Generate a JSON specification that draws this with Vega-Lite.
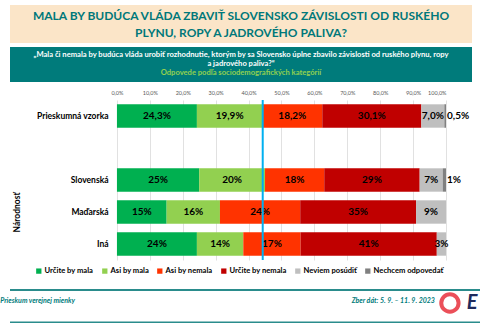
{
  "$schema": "https://vega.github.io/schema/vega-lite/v6.json",
  "padding": {"left": 0, "top": 5, "right": 0, "bottom": 0},
  "background": "white",
  "config": {"view": {"stroke": null}, "font": "Lato"},
  "datasets": {
    "bars": [
      {"group": "Prieskumná vzorka", "o": 1, "cat": "Určite by mala", "v": 24.3, "label": "24,3%"},
      {"group": "Prieskumná vzorka", "o": 2, "cat": "Asi by mala", "v": 19.9, "label": "19,9%"},
      {"group": "Prieskumná vzorka", "o": 3, "cat": "Asi by nemala", "v": 18.2, "label": "18,2%"},
      {"group": "Prieskumná vzorka", "o": 4, "cat": "Určite by nemala", "v": 30.1, "label": "30,1%"},
      {"group": "Prieskumná vzorka", "o": 5, "cat": "Neviem posúdiť", "v": 7.0, "label": "7,0%"},
      {"group": "Prieskumná vzorka", "o": 6, "cat": "Nechcem odpovedať", "v": 0.5, "label": "0,5%"},
      {"group": "Slovenská", "o": 1, "cat": "Určite by mala", "v": 25, "label": "25%"},
      {"group": "Slovenská", "o": 2, "cat": "Asi by mala", "v": 20, "label": "20%"},
      {"group": "Slovenská", "o": 3, "cat": "Asi by nemala", "v": 18, "label": "18%"},
      {"group": "Slovenská", "o": 4, "cat": "Určite by nemala", "v": 29, "label": "29%"},
      {"group": "Slovenská", "o": 5, "cat": "Neviem posúdiť", "v": 7, "label": "7%"},
      {"group": "Slovenská", "o": 6, "cat": "Nechcem odpovedať", "v": 1, "label": "1%"},
      {"group": "Maďarská", "o": 1, "cat": "Určite by mala", "v": 15.1, "label": "15%"},
      {"group": "Maďarská", "o": 2, "cat": "Asi by mala", "v": 16.2, "label": "16%"},
      {"group": "Maďarská", "o": 3, "cat": "Asi by nemala", "v": 24.4, "label": "24%"},
      {"group": "Maďarská", "o": 4, "cat": "Určite by nemala", "v": 35.2, "label": "35%"},
      {"group": "Maďarská", "o": 5, "cat": "Neviem posúdiť", "v": 9.1, "label": "9%"},
      {"group": "Iná", "o": 1, "cat": "Určite by mala", "v": 24.3, "label": "24%"},
      {"group": "Iná", "o": 2, "cat": "Asi by mala", "v": 14.1, "label": "14%"},
      {"group": "Iná", "o": 3, "cat": "Asi by nemala", "v": 17.4, "label": "17%"},
      {"group": "Iná", "o": 4, "cat": "Určite by nemala", "v": 41.4, "label": "41%"},
      {"group": "Iná", "o": 5, "cat": "Neviem posúdiť", "v": 2.8, "label": "3%"}
    ]
  },
  "spacing": 8,
  "resolve": {"scale": {"color": "independent"}, "legend": {"color": "independent"}},
  "vconcat": [
    {
      "spacing": 4,
      "vconcat": [
        {
          "width": 462, "height": 38,
          "view": {"fill": "#fbe5c8", "stroke": null},
          "data": {"values": [{"t": "MALA BY BUDÚCA VLÁDA ZBAVIŤ SLOVENSKO ZÁVISLOSTI OD RUSKÉHO\nPLYNU, ROPY A JADROVÉHO PALIVA?"}]},
          "mark": {"type": "text", "lineBreak": "\n", "fontSize": 12, "fontWeight": "bold", "color": "#00787a", "lineHeight": 17, "baseline": "middle", "dy": -8},
          "encoding": {"text": {"field": "t"}}
        },
        {
          "width": 462, "height": 35,
          "view": {"fill": "#007b7b", "stroke": null},
          "layer": [
            {
              "data": {"values": [{"t": "„Mala či nemala by budúca vláda urobiť rozhodnutie, ktorým by sa Slovensko úplne zbavilo závislosti od ruského plynu, ropy\na jadrového paliva?“"}]},
              "mark": {"type": "text", "lineBreak": "\n", "fontSize": 7.6, "fontWeight": "bold", "color": "white", "lineHeight": 8.5, "baseline": "middle", "dy": -9.5},
              "encoding": {"text": {"field": "t"}}
            },
            {
              "data": {"values": [{"t": "Odpovede podľa sociodemografických kategórií"}]},
              "mark": {"type": "text", "fontSize": 7.6, "fontWeight": "bold", "color": "#92d050", "baseline": "middle", "dy": 8.5},
              "encoding": {"text": {"field": "t"}}
            }
          ]
        }
      ]
    },
    {
      "width": 436, "height": 160,
      "layer": [
        {
          "data": {"name": "bars"},
          "transform": [
            {"stack": "v", "groupby": ["group"], "sort": [{"field": "o", "order": "ascending"}], "as": ["x0", "x1"]}
          ],
          "mark": {"type": "bar"},
          "encoding": {
            "y": {"field": "group", "type": "nominal",
              "scale": {"domain": ["Prieskumná vzorka", "", "Slovenská", "Maďarská", "Iná"], "paddingInner": 0.27, "paddingOuter": 0.135},
              "axis": {"title": "Národnosť", "titleX": 6, "titleY": 112, "titleAngle": 270, "titleAlign": "center", "titleBaseline": "middle", "titleFontSize": 8.5, "titleFontWeight": "bold", "titleColor": "black", "labelFontSize": 8.5, "labelFontWeight": "bold", "labelColor": "black", "labelAlign": "right", "labelPadding": -98, "domain": false, "ticks": false}},
            "x": {"field": "x0", "type": "quantitative", "scale": {"domain": [-32.5, 100], "nice": false, "zero": false},
              "axis": {"orient": "top", "title": null, "values": [0, 10, 20, 30, 40, 50, 60, 70, 80, 90, 100], "labelExpr": "replace(format(datum.value, '.1f'), '.', ',') + '%'", "grid": true, "gridColor": "#d9d9d9", "gridWidth": 0.8, "domain": false, "ticks": false, "labelFontSize": 5.5, "labelColor": "#595959", "labelPadding": 5}},
            "x2": {"field": "x1"},
            "color": {"field": "cat", "type": "nominal",
              "scale": {"domain": ["Určite by mala", "Asi by mala", "Asi by nemala", "Určite by nemala", "Neviem posúdiť", "Nechcem odpovedať"], "range": ["#00b050", "#92d050", "#ff3300", "#c00000", "#bfbfbf", "#808080"]},
              "legend": {"orient": "none", "legendX": 25, "legendY": 167, "direction": "horizontal", "title": null, "symbolType": "square", "symbolSize": 28, "symbolStrokeWidth": 0, "labelFontSize": 7.6, "labelFontWeight": "bold", "labelColor": "black", "columnPadding": 7, "labelOffset": 2}}
          }
        },
        {
          "data": {"name": "bars"},
          "transform": [
            {"stack": "v", "groupby": ["group"], "sort": [{"field": "o", "order": "ascending"}], "as": ["x0", "x1"]},
            {"calculate": "(datum.x0 + datum.x1) / 2", "as": "mid"},
            {"filter": "datum.cat !== 'Nechcem odpovedať'"}
          ],
          "mark": {"type": "text", "fontSize": 10, "fontWeight": "bold", "color": "black"},
          "encoding": {
            "y": {"field": "group", "type": "nominal"},
            "x": {"field": "mid", "type": "quantitative"},
            "text": {"field": "label"}
          }
        },
        {
          "data": {"name": "bars"},
          "transform": [
            {"stack": "v", "groupby": ["group"], "sort": [{"field": "o", "order": "ascending"}], "as": ["x0", "x1"]},
            {"filter": "datum.cat === 'Nechcem odpovedať'"}
          ],
          "mark": {"type": "text", "fontSize": 10, "fontWeight": "bold", "color": "black", "align": "left", "dx": 1},
          "encoding": {
            "y": {"field": "group", "type": "nominal"},
            "x": {"field": "x1", "type": "quantitative"},
            "text": {"field": "label"}
          }
        },
        {
          "data": {"values": [{}]},
          "mark": {"type": "rule", "color": "#00b0f0", "strokeWidth": 2},
          "encoding": {"x": {"datum": 44.3}}
        }
      ]
    },
    {
      "width": 470, "height": 40,
      "layer": [
        {"data": {"values": [{}]}, "mark": {"type": "rule", "color": "#2a8c8c", "strokeWidth": 2},
          "encoding": {"y": {"datum": 0.825, "type": "quantitative", "scale": {"domain": [0, 1]}, "axis": null}}},
        {"data": {"values": [{}]}, "mark": {"type": "rule", "color": "#2a8c8c", "strokeWidth": 2},
          "encoding": {"y": {"datum": 0.015, "type": "quantitative"}}},
        {"data": {"values": [{"t": "Prieskum verejnej mienky"}]},
          "mark": {"type": "text", "align": "left", "fontSize": 7, "fontWeight": "bold", "fontStyle": "italic", "color": "#007b7b"},
          "encoding": {"x": {"datum": -0.021, "type": "quantitative", "scale": {"domain": [0, 1]}, "axis": null}, "y": {"datum": 0.55, "type": "quantitative"}, "text": {"field": "t"}}},
        {"data": {"values": [{"t": "Zber dát: 5. 9. – 11. 9. 2023"}]},
          "mark": {"type": "text", "align": "right", "fontSize": 7, "fontWeight": "bold", "fontStyle": "italic", "color": "#007b7b"},
          "encoding": {"x": {"datum": 0.904, "type": "quantitative"}, "y": {"datum": 0.55, "type": "quantitative"}, "text": {"field": "t"}}},
        {"data": {"values": [{}]},
          "mark": {"type": "point", "shape": "circle", "filled": false, "stroke": "#e30613", "strokeWidth": 4, "size": 300},
          "encoding": {"x": {"datum": 0.936, "type": "quantitative"}, "y": {"datum": 0.5, "type": "quantitative"}}},
        {"data": {"values": [{"t": "E"}]},
          "mark": {"type": "text", "align": "left", "fontSize": 20, "fontWeight": "bold", "fontStyle": "italic", "color": "#1f2a5c"},
          "encoding": {"x": {"datum": 0.972, "type": "quantitative"}, "y": {"datum": 0.5, "type": "quantitative"}, "text": {"field": "t"}}}
      ]
    }
  ]
}
